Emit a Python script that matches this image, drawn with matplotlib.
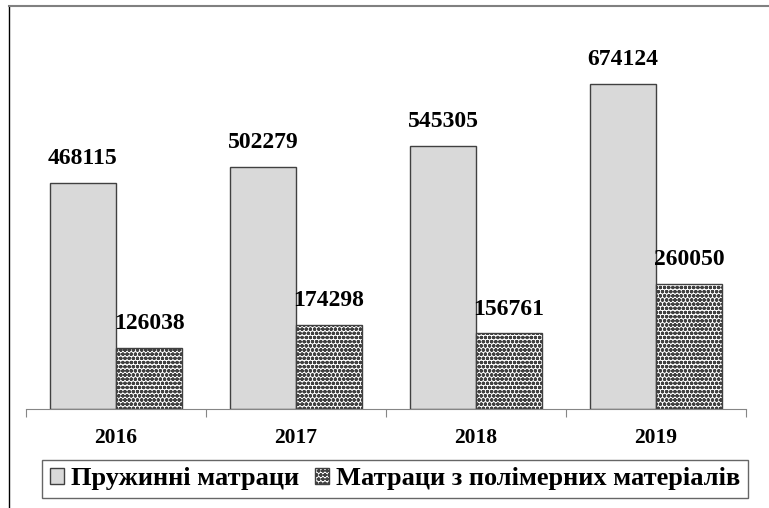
import matplotlib
matplotlib.use("Agg")
import matplotlib.pyplot as plt
import numpy as np
from matplotlib.lines import Line2D

years = ["2016", "2017", "2018", "2019"]
spring = [468115, 502279, 545305, 674124]
polymer = [126038, 174298, 156761, 260050]
series_names = ["Пружинні матраци", "Матраци з полімерних матеріалів"]

plt.rcParams['font.family'] = ['Liberation Serif', 'DejaVu Serif']
plt.rcParams['hatch.linewidth'] = 1.2
plt.rcParams['hatch.color'] = '#333333'

W, H = 769, 508
fig = plt.figure(figsize=(W/100, H/100), dpi=100)
ax = fig.add_axes([26/W, (H-409)/H, (746-26)/W, (409-23)/H])

x = np.arange(len(years))
bw = 66/180
b1 = ax.bar(x - bw/2, spring, bw, color='#d9d9d9', edgecolor='#404040', linewidth=1)
b2 = ax.bar(x + bw/2, polymer, bw, color='white', edgecolor='#404040', linewidth=1, hatch='oooo')

for rect, v in list(zip(b1, spring)) + list(zip(b2, polymer)):
    ax.annotate(f"{v}", (rect.get_x() + rect.get_width()/2, rect.get_height()),
                xytext=(0, 10), textcoords='offset points', ha='center', va='bottom',
                fontsize=17, fontweight='bold')

ax.set_xlim(-0.5, len(years) - 0.5)
ax.set_ylim(0, 674124 * 386 / 325)
for s in ['top', 'right', 'left']:
    ax.spines[s].set_visible(False)
ax.spines['bottom'].set_color('#868686')
ax.set_yticks([])
ax.set_xticks(np.arange(len(years) + 1) - 0.5)
ax.set_xticklabels([])
ax.set_xticks(x, minor=True)
ax.set_xticklabels(years, minor=True, fontsize=15.5, fontweight='bold')
ax.tick_params(axis='x', which='major', length=6, color='#868686', direction='out')
ax.tick_params(axis='x', which='minor', length=0, pad=14)

leg = fig.legend([b1[0], b2[0]], series_names, loc='center',
                 bbox_to_anchor=(395/W, 1 - 479/H), ncol=2,
                 prop={'family': 'Liberation Serif', 'weight': 'bold', 'size': 19},
                 frameon=True, fancybox=False, edgecolor='#404040',
                 handlelength=0.55, handleheight=0.55, handletextpad=0.25,
                 columnspacing=0.6, borderpad=0.3)
leg.get_frame().set_linewidth(1)

fig.add_artist(Line2D([9/W, 9/W], [0, 1 - 6/H], transform=fig.transFigure, color='black', lw=1))
fig.add_artist(Line2D([9/W, 1], [1 - 6/H, 1 - 6/H], transform=fig.transFigure, color='#808080', lw=1.5))

fig.savefig("out.png", dpi=100)
